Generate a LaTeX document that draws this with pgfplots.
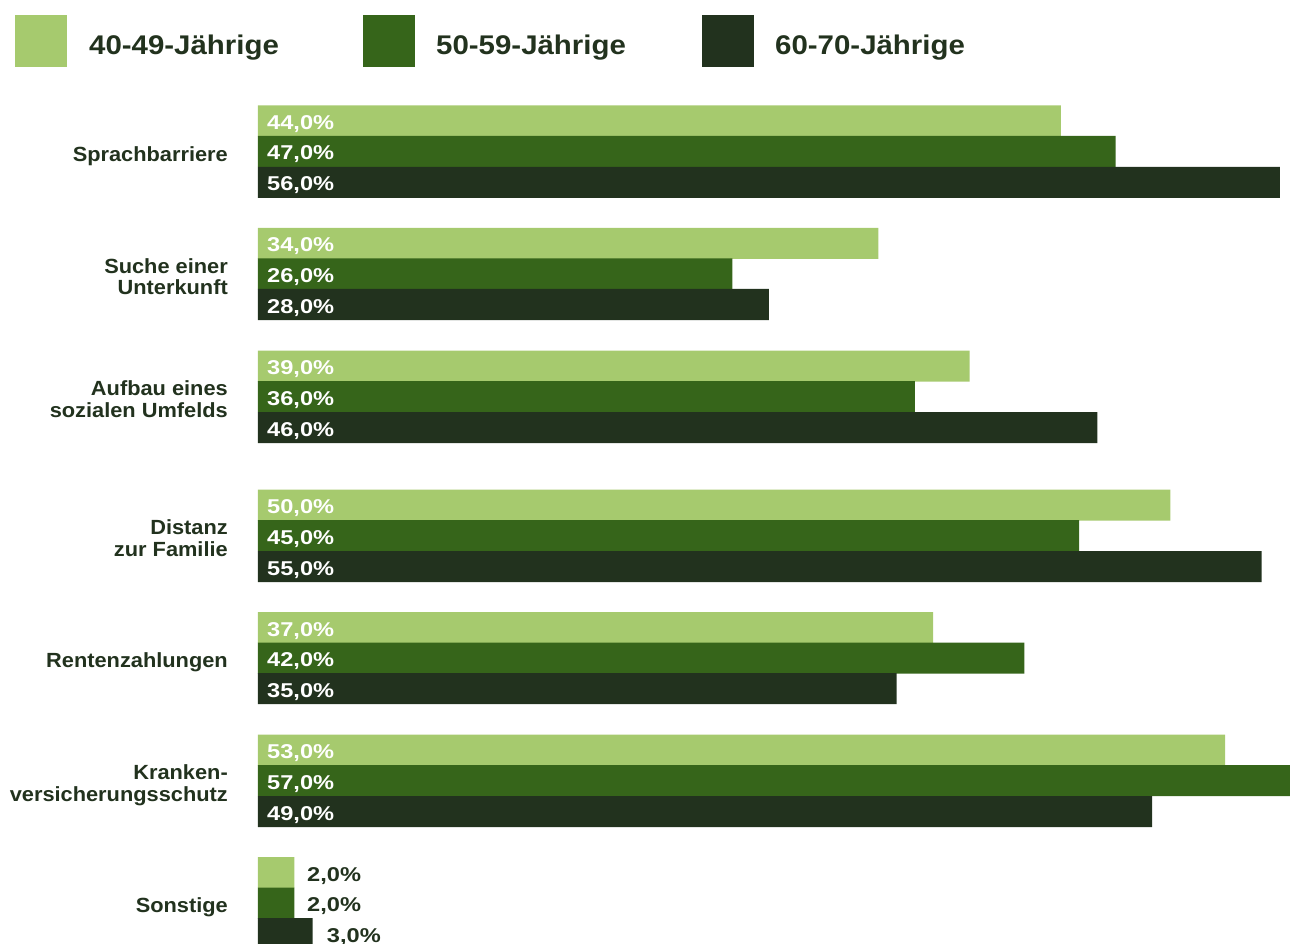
\documentclass[border=0pt]{standalone}
\usepackage{pgfplots}
\pgfplotsset{compat=1.18}
\usepackage{pgfplotstable}
\usepackage{fontspec}
\setmainfont{Liberation Sans}[FakeStretch=1.063]
\newfontfamily\numfont{Liberation Sans}[FakeStretch=1.18]
\newfontfamily\legfont{Liberation Sans}[FakeStretch=1.09]
\definecolor{cA}{HTML}{A6CA6E}
\definecolor{cB}{HTML}{36651A}
\definecolor{cC}{HTML}{22321E}
\definecolor{txt}{HTML}{22321E}
\newcommand\nd[1]{\raisebox{0pt}[\height][0pt]{#1}}

% y = vertical position of each bar (group order top to bottom), v = percent
\pgfplotstableread{
y v
121 44
243.5 34
366 39
505 50
627.5 37
750 53
872.5 2
}\tA
\pgfplotstableread{
y v
151.5 47
274 26
396.5 36
535.5 45
658 42
780.5 57
903 2
}\tB
\pgfplotstableread{
y v
182.5 56
304.5 28
427.5 46
566.5 55
688.5 35
811.5 49
933.5 3
}\tC

\pgfplotsset{
  inlabel/.style={draw=none, skip coords between index={6}{7}, point meta=explicit,
    nodes near coords={\numfont\bfseries\pgfmathprintnumber[fixed,fixed zerofill,precision=1,use comma,assume math mode=true]{\pgfplotspointmeta}\%},
    every node near coord/.style={anchor=base west, inner sep=0pt, xshift=9pt, yshift=-8.5pt, text=white, font=\fontsize{20}{20}\selectfont}},
  outlabel/.style={draw=none, skip coords between index={0}{6}, point meta=explicit,
    nodes near coords={\numfont\bfseries\pgfmathprintnumber[fixed,fixed zerofill,precision=1,use comma,assume math mode=true]{\pgfplotspointmeta}\%},
    every node near coord/.style={anchor=base west, inner sep=0pt, xshift=#1, yshift=-8.5pt, text=txt, font=\fontsize{20}{20}\selectfont}},
}

\begin{document}
\begin{tikzpicture}
\useasboundingbox (-258pt,0pt) rectangle (1032pt,944pt);
\begin{axis}[
  at={(0pt,0pt)}, anchor=south west,
  scale only axis, width=1032pt, height=854pt,
  xmin=0, xmax=56.548, ymin=90, ymax=944, y dir=reverse,
  enlargelimits=false,
  axis line style={draw=none},
  xtick=\empty,
  ytick={151.5,274,396.5,535.5,658,780.5,903},
  yticklabels={\nd{Sprachbarriere}, {Suche einer\\\nd{Unterkunft}}, {Aufbau eines\\\nd{sozialen Umfelds}}, {Distanz\\\nd{zur Familie}}, \nd{Rentenzahlungen}, {Kranken-\\\nd{versicherungsschutz}}, \nd{Sonstige}},
  tick style={draw=none}, major tick length=0pt,
  yticklabel style={anchor=east, align=right, inner sep=0pt, xshift=-30pt, yshift=-2.5pt, font=\fontsize{20.5}{21.5}\selectfont\bfseries, text=txt},
]
\addplot[xbar, bar width=31, bar shift=0pt, fill=cA, draw=none] table[x=v, y=y]{\tA};
\addplot[xbar, bar width=31, bar shift=0pt, fill=cB, draw=none] table[x=v, y=y]{\tB};
\addplot[xbar, bar width=31, bar shift=0pt, fill=cC, draw=none] table[x=v, y=y]{\tC};

\addplot[inlabel] table[x expr=0, y=y, meta=v]{\tA};
\addplot[inlabel] table[x expr=0, y=y, meta=v]{\tB};
\addplot[inlabel] table[x expr=0, y=y, meta=v]{\tC};

\addplot[outlabel=12.5pt] table[x=v, y=y, meta=v]{\tA};
\addplot[outlabel=12.5pt] table[x=v, y=y, meta=v]{\tB};
\addplot[outlabel=14pt] table[x=v, y=y, meta=v]{\tC};
\end{axis}

% legend
\fill[cA] (-243pt,877pt) rectangle (-191pt,929pt);
\fill[cB] (105pt,877pt) rectangle (157pt,929pt);
\fill[cC] (444pt,877pt) rectangle (496pt,929pt);
\node[anchor=base west, inner sep=0pt, text=txt, font=\legfont\fontsize{27}{30}\selectfont\bfseries] at (-169pt,889pt) {40-49-Jährige};
\node[anchor=base west, inner sep=0pt, text=txt, font=\legfont\fontsize{27}{30}\selectfont\bfseries] at (178pt,889pt) {50-59-Jährige};
\node[anchor=base west, inner sep=0pt, text=txt, font=\legfont\fontsize{27}{30}\selectfont\bfseries] at (517pt,889pt) {60-70-Jährige};
\end{tikzpicture}
\end{document}
